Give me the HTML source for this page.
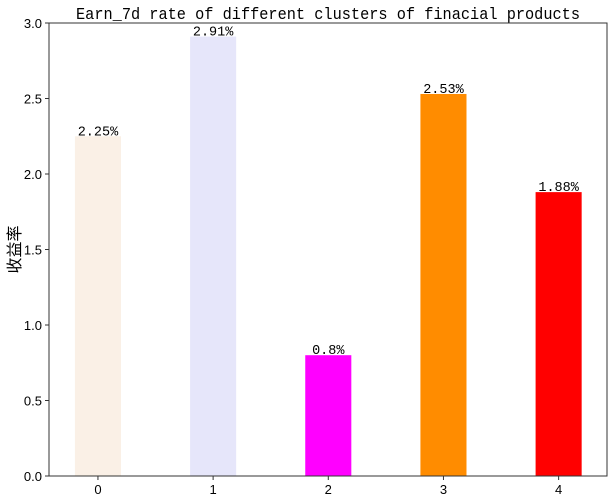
<!DOCTYPE html>
<html><head><meta charset="utf-8"><style>
body{margin:0;background:#fff}
svg text{font-family:"Liberation Mono","WenQuanYi Zen Hei",monospace;fill:#000}
svg text.tick{font-family:"WenQuanYi Zen Hei","Liberation Sans",sans-serif}
</style></head><body>
<svg id="chart" width="616" height="499" xmlns="http://www.w3.org/2000/svg"></svg>
<script>
const categories=["0","1","2","3","4"];
const values=[2.25,2.91,0.8,2.53,1.88];
const valueLabels=["2.25%","2.91%","0.8%","2.53%","1.88%"];
const colors=["#faf0e6","#e6e6fa","#ff00ff","#ff8c00","#ff0000"];
const yTicks=[0,0.5,1.0,1.5,2.0,2.5,3.0];
const yTickLabels=["0.0","0.5","1.0","1.5","2.0","2.5","3.0"];
const L=49,R=607,T=23,B=476,xmin=-0.425,xmax=4.42,ymax=3.0;
const X=v=>L+(v-xmin)/(xmax-xmin)*(R-L);
const Y=v=>B-v/ymax*(B-T);
const svg=document.getElementById('chart');
const NS="http://www.w3.org/2000/svg";
function mk(t,a,txt){const e=document.createElementNS(NS,t);for(const k in a)e.setAttribute(k,a[k]);if(txt!==undefined)e.textContent=txt;svg.appendChild(e);return e;}
values.forEach((v,i)=>{
 const w=X(0.2)-X(-0.2);
 const b=mk('rect',{x:X(i)-w/2,y:Y(v),width:w,height:Y(0)-Y(v),fill:colors[i]});
 
 
 const t=mk('text',{x:X(i),y:Y(v)-1,'text-anchor':'middle','font-size':'13.5'},valueLabels[i]);
 
 
 const tk=mk('line',{x1:X(i),x2:X(i),y1:B,y2:B+4,stroke:'#333'});
 
 
 const tl=mk('text',{x:X(i),y:B+18,'text-anchor':'middle','font-size':'13','class':'tick'},categories[i]);
 
 
});
yTicks.forEach((v,i)=>{
 const tk=mk('line',{x1:L-4,x2:L,y1:Y(v),y2:Y(v),stroke:'#333'});
 
 
 const tl=mk('text',{x:L-7,y:Y(v)+5,'text-anchor':'end','font-size':'13','class':'tick'},yTickLabels[i]);
 
 
});
const fr=mk('rect',{x:L,y:T,width:R-L,height:B-T,fill:'none',stroke:'#333','stroke-width':'1'});


const ti=mk('text',{x:(L+R)/2,y:19,'text-anchor':'middle','font-size':'15.4','textLength':'504','lengthAdjust':'spacingAndGlyphs','transform':'translate(0,0)'},'Earn_7d rate of different clusters of finacial products');


ti.setAttribute('style','font-size:17px');
const yt=mk('text',{x:0,y:0,'text-anchor':'middle','font-size':'16',transform:'translate(20,'+((T+B)/2)+') rotate(-90)'},'收益率');


</script>
</body></html>
